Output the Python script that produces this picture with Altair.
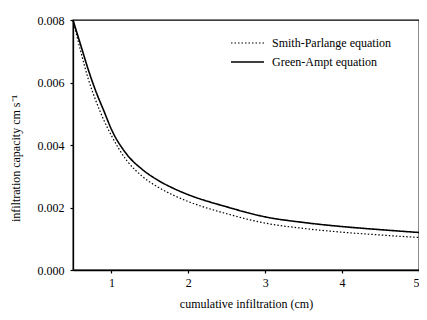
import altair as alt
import pandas as pd

# cumulative infiltration (cm)
F = [0.5, 0.6, 0.7, 0.8, 0.9, 1.0, 1.2, 1.4, 1.6, 1.8, 2.0, 2.5, 3.0, 3.5, 4.0, 4.5, 5.0]
# infiltration capacity (cm s^-1)
green_ampt = [0.0080, 0.0072, 0.0064, 0.0057, 0.0051, 0.0045, 0.0037, 0.00322, 0.00288,
              0.00262, 0.00241, 0.00202, 0.00170, 0.00152, 0.00139, 0.00129, 0.00120]
smith_parlange = [0.0080, 0.0070, 0.0061, 0.0054, 0.0048, 0.0043, 0.0035, 0.00300, 0.00266,
                  0.00240, 0.00219, 0.00180, 0.00150, 0.00133, 0.00121, 0.00112, 0.00104]
series_names = ["Smith-Parlange equation", "Green-Ampt equation"]
x_ticks = [1, 2, 3, 4, 5]
y_ticks = [0.0, 0.002, 0.004, 0.006, 0.008]

rows = []
for f, v in zip(F, smith_parlange):
    rows.append({"F": f, "cap": v, "eq": series_names[0]})
for f, v in zip(F, green_ampt):
    rows.append({"F": f, "cap": v, "eq": series_names[1]})
df = pd.DataFrame(rows)

FONT = "Liberation Serif"

chart = alt.Chart(df).mark_line(color="black", interpolate="monotone").encode(
    x=alt.X("F:Q",
            scale=alt.Scale(domain=[0.5, 5], nice=False, zero=False),
            axis=alt.Axis(values=x_ticks, format="d", title="cumulative infiltration (cm)",
                          grid=False, tickSize=3, labelPadding=4, titlePadding=10)),
    y=alt.Y("cap:Q",
            scale=alt.Scale(domain=[0, 0.008], nice=False),
            axis=alt.Axis(values=y_ticks, format=".3f", title="infiltration capacity  cm s\u207b\u00b9",
                          grid=False, tickSize=3, labelPadding=6,
                          titleX=-58, titleY=138, titleBaseline="middle")),
    strokeDash=alt.StrokeDash("eq:N",
                              scale=alt.Scale(domain=series_names, range=[[1.5, 2], [1, 0]]),
                              legend=alt.Legend(title=None, orient="none", legendX=157, legendY=17,
                                                symbolType="stroke", symbolSize=1089,
                                                clipHeight=12,
                                                symbolStrokeWidth=1.3, symbolStrokeColor="black",
                                                labelOffset=7, rowPadding=7,
                                                labelFontSize=12, labelFont=FONT, labelColor="black")),
    strokeWidth=alt.StrokeWidth("eq:N", scale=alt.Scale(domain=series_names, range=[1.2, 1.6]),
                                legend=None),
).properties(
    width=346,
    height=250,
    autosize=alt.AutoSizeParams(type="none"),
    padding={"left": 65, "top": 12, "right": 0, "bottom": 42},
).configure_view(
    stroke="black", strokeWidth=1.3
).configure_axis(
    domainColor="black", domainWidth=1.3, tickColor="black", tickWidth=1.2,
    labelFont=FONT, labelFontSize=12, labelColor="black",
    titleFont=FONT, titleFontSize=12, titleColor="black", titleFontWeight="normal",
)

chart.save("out.html", embed_options={"renderer": "svg", "actions": False})
